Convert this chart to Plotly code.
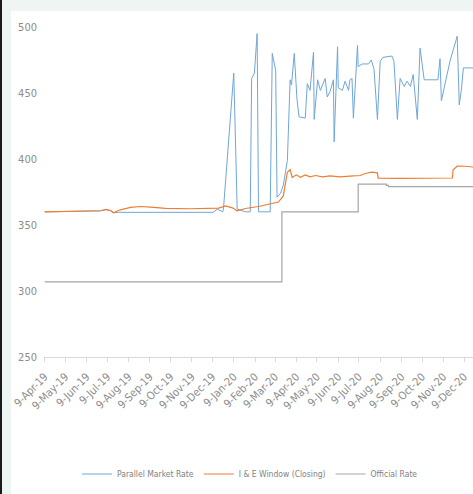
import plotly.graph_objects as go

# Parallel market rate (NGN/USD)
parallel_dates = [
    "2019-04-09", "2019-05-17", "2019-06-29", "2019-07-07", "2019-07-14", "2019-07-18",
    "2019-07-25", "2019-12-10", "2019-12-16", "2019-12-24", "2019-12-25", "2020-01-09",
    "2020-01-14", "2020-01-26", "2020-02-02", "2020-02-04", "2020-02-08", "2020-02-12",
    "2020-02-14", "2020-03-02", "2020-03-05", "2020-03-10", "2020-03-12", "2020-03-17",
    "2020-03-21", "2020-03-27", "2020-03-31", "2020-04-02", "2020-04-06", "2020-04-10",
    "2020-04-13", "2020-04-22", "2020-04-25", "2020-04-29", "2020-05-04", "2020-05-05",
    "2020-05-10", "2020-05-14", "2020-05-18", "2020-05-21", "2020-05-24", "2020-05-28",
    "2020-06-02", "2020-06-03", "2020-06-08", "2020-06-09", "2020-06-15", "2020-06-19",
    "2020-06-24", "2020-06-26", "2020-06-29", "2020-07-01", "2020-07-07", "2020-07-08",
    "2020-07-14", "2020-07-23", "2020-07-27", "2020-07-31", "2020-08-05", "2020-08-09",
    "2020-08-13", "2020-08-26", "2020-08-29", "2020-09-03", "2020-09-07", "2020-09-13",
    "2020-09-17", "2020-09-22", "2020-09-26", "2020-10-02", "2020-10-06", "2020-10-09",
    "2020-10-12", "2020-11-01", "2020-11-04", "2020-11-06", "2020-11-09", "2020-11-13",
    "2020-11-19", "2020-11-23", "2020-11-29", "2020-12-02", "2020-12-05", "2020-12-08",
    "2020-12-22", "2020-12-31",
]
parallel_values = [
    360.0, 360.4, 360.7, 361.5, 360.8, 359.3,
    359.6, 359.6, 362.0, 360.0, 362.0, 465.0,
    362.0, 360.0, 360.0, 461.0, 465.0, 495.0,
    360.0, 360.0, 480.0, 467.0, 371.0, 374.0,
    380.0, 399.0, 460.0, 456.0, 480.0, 445.0,
    432.0, 431.0, 457.0, 452.0, 481.0, 430.0,
    460.0, 452.0, 457.0, 461.0, 447.0, 451.0,
    460.0, 413.0, 485.0, 454.0, 452.0, 459.0,
    452.0, 460.0, 461.0, 431.0, 486.0, 470.0,
    472.0, 472.0, 475.0, 468.0, 430.0, 474.0,
    477.0, 478.0, 474.0, 430.0, 461.0, 455.0,
    459.0, 455.0, 464.0, 430.0, 484.0, 470.0,
    460.0, 460.0, 476.0, 444.0, 452.0, 461.0,
    475.0, 483.0, 493.0, 441.0, 452.0, 469.0,
    469.0, 469.0,
]

# I & E window closing rate
ie_dates = [
    "2019-04-09", "2019-05-17", "2019-06-29", "2019-07-07", "2019-07-14", "2019-07-18",
    "2019-07-28", "2019-08-12", "2019-08-26", "2019-09-10", "2019-10-02", "2019-11-07",
    "2019-12-06", "2019-12-18", "2019-12-28", "2020-01-07", "2020-01-14", "2020-01-26",
    "2020-02-14", "2020-03-05", "2020-03-14", "2020-03-21", "2020-03-27", "2020-03-31",
    "2020-04-03", "2020-04-09", "2020-04-15", "2020-04-22", "2020-04-29", "2020-05-07",
    "2020-05-17", "2020-05-28", "2020-06-12", "2020-06-26", "2020-07-11", "2020-07-18",
    "2020-07-28", "2020-08-05", "2020-08-06", "2020-09-07", "2020-10-21", "2020-11-22",
    "2020-11-23", "2020-11-29", "2020-12-10", "2020-12-22", "2020-12-31",
]
ie_values = [
    360.0, 360.5, 360.8, 361.9, 361.0, 359.3,
    361.5, 363.4, 364.0, 363.6, 362.6, 362.3,
    362.5, 362.8, 364.4, 363.0, 360.8, 362.5,
    364.0, 366.0, 367.4, 372.0, 390.0, 392.0,
    386.0, 388.0, 386.2, 388.0, 386.5, 387.5,
    386.5, 387.2, 386.4, 387.0, 387.5, 389.0,
    390.0, 389.5, 385.5, 385.3, 385.5, 385.6,
    391.7, 394.7, 394.5, 394.0, 393.5,
]

# Official CBN rate (step changes)
official_dates = ["2019-04-09", "2020-03-19", "2020-07-08", "2020-08-18", "2020-08-21", "2020-12-31"]
official_values = [306.95, 360.0, 381.0, 380.0, 379.0, 379.0]

tick_dates = [
    "2019-04-09", "2019-05-09", "2019-06-09", "2019-07-09", "2019-08-09", "2019-09-09",
    "2019-10-09", "2019-11-09", "2019-12-09", "2020-01-09", "2020-02-09", "2020-03-09",
    "2020-04-09", "2020-05-09", "2020-06-09", "2020-07-09", "2020-08-09", "2020-09-09",
    "2020-10-09", "2020-11-09", "2020-12-09",
]
tick_labels = [
    "9-Apr-19", "9-May-19", "9-Jun-19", "9-Jul-19", "9-Aug-19", "9-Sep-19",
    "9-Oct-19", "9-Nov-19", "9-Dec-19", "9-Jan-20", "9-Feb-20", "9-Mar-20",
    "9-Apr-20", "9-May-20", "9-Jun-20", "9-Jul-20", "9-Aug-20", "9-Sep-20",
    "9-Oct-20", "9-Nov-20", "9-Dec-20",
]
y_ticks = [250, 300, 350, 400, 450, 500]

FONT = "DejaVu Sans Condensed, Liberation Sans Narrow, sans-serif"
W, H = 473, 494
ML, MR, MT, MB = 44, 0, 27, 137
PW, PH = W - ML - MR, H - MT - MB


def px_x(p):
    return (p - ML) / PW


def px_y(p):
    return (H - MB - p) / PH


fig = go.Figure()
fig.add_trace(go.Scatter(x=parallel_dates, y=parallel_values, mode="lines",
                         name="Parallel Market Rate",
                         line=dict(color="#6FA6DA", width=1)))
fig.add_trace(go.Scatter(x=ie_dates, y=ie_values, mode="lines",
                         name="I & E Window (Closing)",
                         line=dict(color="#ED7D31", width=1.2)))
fig.add_trace(go.Scatter(x=official_dates, y=official_values, mode="lines",
                         name="Official Rate", line_shape="hv",
                         line=dict(color="#A5A5A5", width=1.2)))

# light frame strips around the panel
frame = [
    dict(x0=px_x(0), x1=px_x(W), y0=px_y(0), y1=px_y(11), color="#EEF5F2"),
    dict(x0=px_x(0), x1=px_x(11), y0=px_y(0), y1=px_y(H), color="#EEF5F2"),
    dict(x0=px_x(0), x1=px_x(2), y0=px_y(0), y1=px_y(H), color="#1A1A1A"),
]
for f in frame:
    fig.add_shape(type="rect", xref="paper", yref="paper",
                  x0=f["x0"], x1=f["x1"], y0=f["y0"], y1=f["y1"],
                  fillcolor=f["color"], line=dict(width=0), layer="below")

fig.update_layout(
    width=W, height=H,
    margin=dict(l=ML, r=MR, t=MT, b=MB, pad=0),
    paper_bgcolor="white", plot_bgcolor="white",
    font=dict(family=FONT, size=10, color="#8C8C8C"),
    showlegend=True,
    legend=dict(orientation="h", x=px_x(250), xanchor="center",
                y=px_y(474), yanchor="middle",
                font=dict(family=FONT, size=8.5, color="#7F7F7F"),
                itemwidth=30, bgcolor="rgba(0,0,0,0)"),
    xaxis=dict(
        type="date", range=["2019-04-08", "2020-12-22"],
        tickmode="array", tickvals=tick_dates, ticktext=tick_labels,
        tickangle=-45, tickfont=dict(family=FONT, size=11, color="#8C8C8C"),
        showgrid=False, zeroline=False,
        showline=True, linecolor="#D9D9D9", linewidth=1,
        ticks="outside", ticklen=4, tickcolor="#D9D9D9",
        ticklabelstandoff=4,
    ),
    yaxis=dict(
        range=[250, 500], tickmode="array", tickvals=y_ticks,
        tickfont=dict(family=FONT, size=11, color="#8C8C8C"),
        showgrid=False, zeroline=False, showline=False, ticks="",
        ticklabelstandoff=6,
    ),
)

fig.write_html("out.html")
